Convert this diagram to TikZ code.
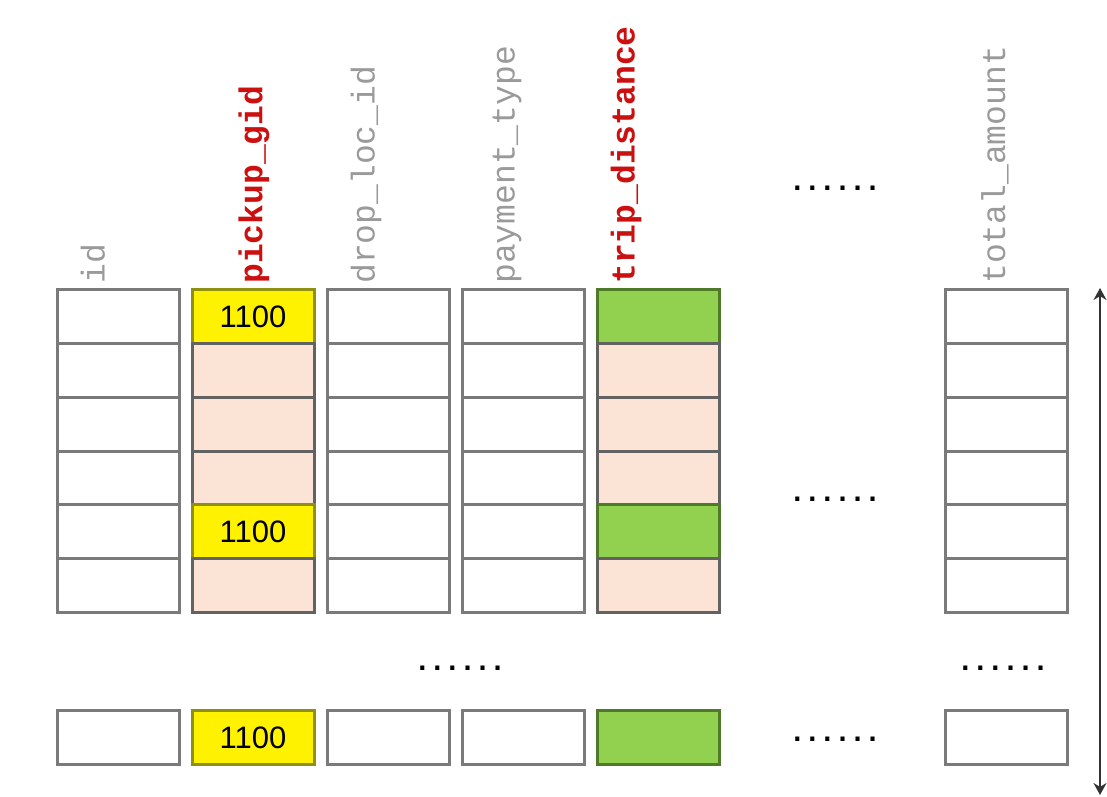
\documentclass[tikz,border=0pt]{standalone}
\usepackage{fontspec}
\setmainfont{Liberation Sans}
\setmonofont{Liberation Mono}
\newfontfamily\dotfont{DejaVu Sans Mono}
\usepackage{xcolor}
\usepackage{tikz}
\usetikzlibrary{arrows.meta, positioning}

\definecolor{cellgray}{HTML}{7A7A7A}
\definecolor{peach}{HTML}{FBE4D5}
\definecolor{keyedge}{HTML}{8F8F10}
\definecolor{leaf}{HTML}{92D050}
\definecolor{leafedge}{HTML}{4E7A2A}
\definecolor{headgray}{HTML}{9A9A9A}
\definecolor{headred}{HTML}{CC1010}

\begin{document}
\begin{tikzpicture}[
    x=1pt, y=-1pt,
    node distance=0pt and 13pt,
    cell/.style={rectangle, draw=cellgray, line width=3pt, fill=white, minimum width=122pt, minimum height=53.7pt, outer sep=0pt, inner sep=0pt, font=\fontsize{31}{31}\selectfont},
    key/.style={cell, draw=keyedge, fill=yellow},
    pick/.style={cell, draw=cellgray!80!black, fill=peach},
    match/.style={cell, draw=leafedge, fill=leaf},
    header/.style={rotate=90, anchor=west, inner sep=0pt, text=headgray, font=\ttfamily\fontsize{33}{33}\selectfont},
    hot/.style={header, text=headred, font=\ttfamily\bfseries\fontsize{33}{33}\selectfont},
    dots/.style={font=\dotfont\bfseries\fontsize{25}{25}\selectfont},
    span/.style={line width=2pt, draw=black!80, {Stealth[length=12pt,width=13pt]}-{Stealth[length=12pt,width=13pt]}}
]
\useasboundingbox (0,0) rectangle (1107,796);

% First row
\node[cell] (id1) at (118,316.8) {};
\node[key, right=of id1] (gid1) {1100};
\node[cell, right=of gid1] (drop1) {};
\node[cell, right=of drop1] (pay1) {};
\node[match, right=of pay1] (trip1) {};
\node[cell, right=226pt of trip1] (total1) {};

% id column
\node[cell, below=of id1] (id2) {};
\node[cell, below=of id2] (id3) {};
\node[cell, below=of id3] (id4) {};
\node[cell, below=of id4] (id5) {};
\node[cell, below=of id5] (id6) {};

% pickup_gid column
\node[pick, below=of gid1] (gid2) {};
\node[pick, below=of gid2] (gid3) {};
\node[pick, below=of gid3] (gid4) {};
\node[key, below=of gid4] (gid5) {1100};
\node[pick, below=of gid5] (gid6) {};

% drop_loc_id column
\node[cell, below=of drop1] (drop2) {};
\node[cell, below=of drop2] (drop3) {};
\node[cell, below=of drop3] (drop4) {};
\node[cell, below=of drop4] (drop5) {};
\node[cell, below=of drop5] (drop6) {};

% payment_type column
\node[cell, below=of pay1] (pay2) {};
\node[cell, below=of pay2] (pay3) {};
\node[cell, below=of pay3] (pay4) {};
\node[cell, below=of pay4] (pay5) {};
\node[cell, below=of pay5] (pay6) {};

% trip_distance column
\node[pick, below=of trip1] (trip2) {};
\node[pick, below=of trip2] (trip3) {};
\node[pick, below=of trip3] (trip4) {};
\node[match, below=of trip4] (trip5) {};
\node[pick, below=of trip5] (trip6) {};

% total_amount column
\node[cell, below=of total1] (total2) {};
\node[cell, below=of total2] (total3) {};
\node[cell, below=of total3] (total4) {};
\node[cell, below=of total4] (total5) {};
\node[cell, below=of total5] (total6) {};

% Last row
\node[cell] (id7) at (118,737.5) {};
\node[key, right=of id7] (gid7) {1100};
\node[cell, right=of gid7] (drop7) {};
\node[cell, right=of drop7] (pay7) {};
\node[match, right=of pay7] (trip7) {};
\node[cell, right=226pt of trip7] (total7) {};

% Column names
\node[header] (hid) at ([xshift=-25pt, yshift=6pt]id1.north) {id};
\node[hot] (hgid) at ([xshift=1pt, yshift=6pt]gid1.north) {pickup\_gid};
\node[header] (hdrop) at ([xshift=-22pt, yshift=6pt]drop1.north) {drop\_loc\_id};
\node[header] (hpay) at ([xshift=-16pt, yshift=6pt]pay1.north) {payment\_type};
\node[hot] (htrip) at ([xshift=-32pt, yshift=6pt]trip1.north) {trip\_distance};
\node[header] (htotal) at ([xshift=-11pt, yshift=6pt]total1.north) {total\_amount};

% Elided parts
\node[dots] (dotshead) at (835,188) {......};
\node[dots] (dotsmid) at (835,499) {......};
\node[dots] (dotsrows) at (460,668) {......};
\node[dots] (dotstotal) at (1003,668) {......};
\node[dots] (dotslast) at (835,739) {......};

% Row span
\coordinate (spantop) at (1100,288);
\coordinate (spanbot) at (1100,795);
\draw[span] (spantop) -- (spanbot);

\end{tikzpicture}
\end{document}
